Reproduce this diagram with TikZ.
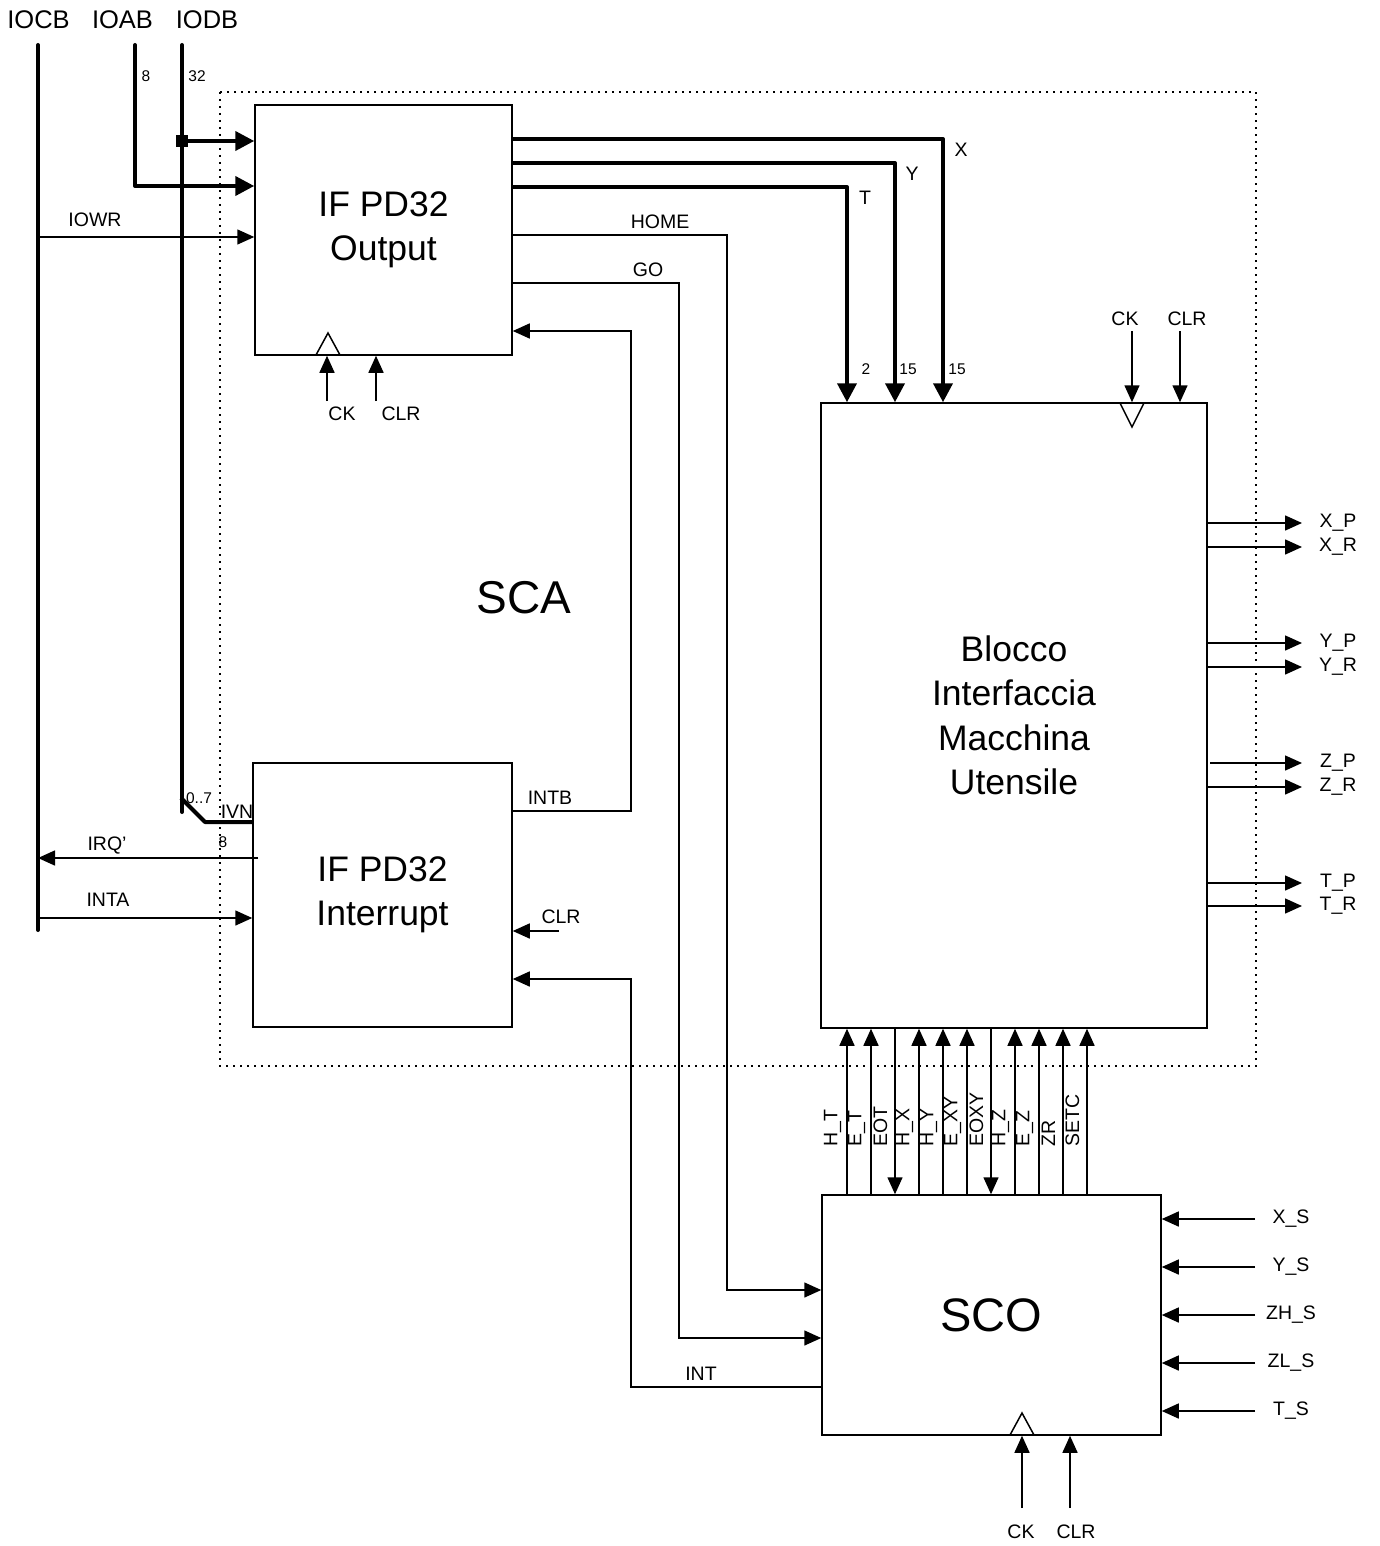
\documentclass[tikz,border=0pt]{standalone}
\usepackage{fontspec}
\setmainfont{Liberation Sans}
\usetikzlibrary{arrows.meta}
\begin{document}
\begin{tikzpicture}[x=1pt,y=-1pt,
  sig/.style={line width=1.5pt},
  bus/.style={line width=4pt,line join=round},
  ar/.style={-{Triangle[length=17pt,width=15pt]}},
  bar/.style={-{Triangle[length=19pt,width=19pt]}},
  blk/.style={draw,line width=1.5pt,inner sep=0pt,align=center},
  lab/.style={font=\fontsize{19.5}{22}\selectfont,inner sep=0pt},
  top/.style={font=\fontsize{25.5}{28}\selectfont,inner sep=0pt},
  small/.style={font=\fontsize{15.5}{17}\selectfont,inner sep=0pt},
  big/.style={font=\fontsize{35.5}{44.5}\selectfont}]
\useasboundingbox (0,0) rectangle (1379,1546);

% dotted SCA boundary
\draw[line width=1.5pt,dash pattern=on 2pt off 5pt] (220,92) rectangle (1256,1066);
\node[font=\fontsize{46}{50}\selectfont,inner sep=0pt] (sca) at (524,598) {SCA};

% blocks
\node[blk,big,minimum width=257pt,minimum height=250pt] (out) at (383.5,230) {IF PD32\\Output};
\node[blk,big,minimum width=259pt,minimum height=264pt] (intr) at (382.5,895) {IF PD32\\Interrupt};
\node[blk,big,minimum width=386pt,minimum height=625pt] (blk) at (1014,715.5) {Blocco\\Interfaccia\\Macchina\\Utensile};
\node[blk,font=\fontsize{47}{50}\selectfont,minimum width=339pt,minimum height=240pt] (sco) at (991.5,1315) {SCO};

% clock triangles
\draw[sig,line join=miter] (316,355) -- (328,333) -- (340,355);
\draw[sig,line join=miter] (1120,403) -- (1132,427) -- (1144,403);
\draw[sig,line join=miter] (1010,1435) -- (1022,1413) -- (1034,1435);

% bus labels
\node[top] (lcb) at (38.5,20) {IOCB};
\node[top] (lab) at (122.5,20) {IOAB};
\node[top] (ldb) at (207,20) {IODB};
\node[small] (n8) at (146,76) {8};
\node[small] (n32) at (197,76) {32};

% buses
\coordinate (cbT) at (38,45); \coordinate (cbB) at (38,930);
\draw[bus,line cap=round] (cbT) -- (cbB);
\coordinate (abT) at (135,45); \coordinate (abC) at (135,186);
\draw[bus,bar,line cap=round] (abT) -- (abC) -- (out.west |- abC);
\coordinate (dbT) at (182,45); \coordinate (dbB) at (182,812);
\draw[bus,line cap=round] (dbT) -- (dbB);
\node[fill,minimum size=12pt,inner sep=0pt] (jn) at (182,141) {};
\draw[bus,bar] (jn.center) -- (out.west |- jn.center);
\coordinate (dbD) at (181,798); \coordinate (dbE) at (205,822);
\draw[bus] (dbD) -- (dbE) -- (intr.west |- dbE);
\node[small] (l07) at (199,798) {0..7};
\node[lab] (livn) at (237,812) {IVN};
\node[small] (l8b) at (223,842) {8};

% control lines on the left
\coordinate (iowr) at (38,237);
\draw[sig,ar] (iowr) -- (out.west |- iowr);
\node[lab] (liowr) at (95,220) {IOWR};
\coordinate (irqS) at (258,858); \coordinate (irqE) at (38,858);
\draw[sig,ar] (irqS) -- (irqE);
\node[lab] (lirq) at (107,846) {IRQ'};
\coordinate (inta) at (38,918);
\draw[sig,ar] (inta) -- (intr.west |- inta);
\node[lab] (linta) at (108,900) {INTA};

% X, Y, T buses
\coordinate (xr) at (943,139); \coordinate (yr) at (895,163); \coordinate (tr) at (847,187);
\draw[bus,bar] (out.east |- xr) -- (xr) -- (blk.north -| xr);
\draw[bus,bar] (out.east |- yr) -- (yr) -- (blk.north -| yr);
\draw[bus,bar] (out.east |- tr) -- (tr) -- (blk.north -| tr);
\node[lab] (lx) at (961,150) {X};
\node[lab] (ly) at (912,174) {Y};
\node[lab] (lt) at (865,198) {T};
\node[small] (n2) at (866,369) {2};
\node[small] (n15a) at (908,369) {15};
\node[small] (n15b) at (957,369) {15};

% HOME, GO
\coordinate (hm) at (727,235); \coordinate (hmB) at (727,1290);
\draw[sig,ar] (out.east |- hm) -- (hm) -- (hmB) -- (sco.west |- hmB);
\node[lab] (lhome) at (660,222) {HOME};
\coordinate (go) at (679,283); \coordinate (goB) at (679,1338);
\draw[sig,ar] (out.east |- go) -- (go) -- (goB) -- (sco.west |- goB);
\node[lab] (lgo) at (648,270) {GO};

% INTB, INT
\coordinate (ib) at (631,811); \coordinate (ibT) at (631,331);
\draw[sig,ar] (intr.east |- ib) -- (ib) -- (ibT) -- (out.east |- ibT);
\node[lab] (lintb) at (550,798) {INTB};
\coordinate (it) at (631,1387); \coordinate (itT) at (631,979);
\draw[sig,ar] (sco.west |- it) -- (it) -- (itT) -- (intr.east |- itT);
\node[lab] (lint) at (701,1374) {INT};
\coordinate (iclr) at (559,931);
\draw[sig,ar] (iclr) -- (intr.east |- iclr);
\node[lab] (liclr) at (561,917) {CLR};

% CK / CLR
\coordinate (ock) at (327,401); \coordinate (oclr) at (376,401);
\draw[sig,ar] (ock) -- (out.south -| ock);
\draw[sig,ar] (oclr) -- (out.south -| oclr);
\node[lab] (lock) at (342,414) {CK};
\node[lab] (loclr) at (401,414) {CLR};
\coordinate (bck) at (1132,331); \coordinate (bclr) at (1180,331);
\draw[sig,ar] (bck) -- (blk.north -| bck);
\draw[sig,ar] (bclr) -- (blk.north -| bclr);
\node[lab] (lbck) at (1125,319) {CK};
\node[lab] (lbclr) at (1187,319) {CLR};
\coordinate (sck) at (1022,1508); \coordinate (sclr) at (1070,1508);
\draw[sig,ar] (sck) -- (sco.south -| sck);
\draw[sig,ar] (sclr) -- (sco.south -| sclr);
\node[lab] (lsck) at (1021,1532) {CK};
\node[lab] (lsclr) at (1076,1532) {CLR};

% outputs of Blocco
\foreach \y/\t in {523/X\_P,547/X\_R,643/Y\_P,667/Y\_R,787/Z\_R,883/T\_P,906/T\_R}{
  \coordinate (o) at (1302,\y);
  \draw[sig,ar] (blk.east |- o) -- (o);
  \node[lab] at (1338,\y) {\t};
}
\coordinate (zpS) at (1210,763); \coordinate (zpE) at (1302,763);
\draw[sig,ar] (zpS) -- (zpE);
\node[lab] (lzp) at (1338,763) {Z\_P};

% inputs of SCO
\foreach \y/\t in {1219/X\_S,1267/Y\_S,1315/ZH\_S,1363/ZL\_S,1411/T\_S}{
  \coordinate (i) at (1255,\y);
  \draw[sig,ar] (i) -- (sco.east |- i);
  \node[lab] at (1291,\y) {\t};
}

% vertical signals SCO <-> Blocco
\foreach \x/\t in {847/H\_T,871/E\_T,919/H\_X,943/H\_Y,967/E\_XY,1015/H\_Z,1039/E\_Z,1063/ZR,1087/SETC}{
  \coordinate (v) at (\x,1100);
  \draw[sig,ar] (sco.north -| v) -- (blk.south -| v);
  \node[lab,rotate=90,anchor=west] at (\x-14.5,1147) {\t};
}
\foreach \x/\t in {895/EOT,991/EOXY}{
  \coordinate (v) at (\x,1100);
  \draw[sig,ar] (blk.south -| v) -- (sco.north -| v);
  \node[lab,rotate=90,anchor=west] at (\x-14.5,1147) {\t};
}
\end{tikzpicture}
\end{document}
